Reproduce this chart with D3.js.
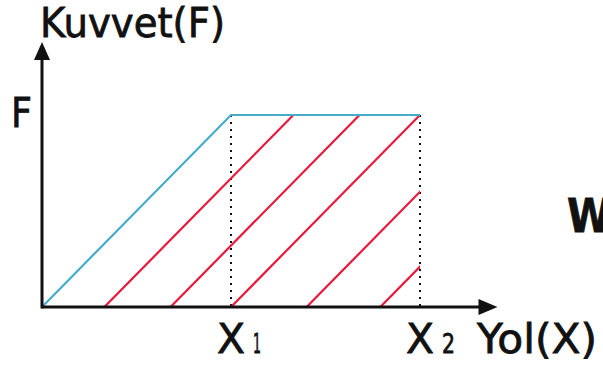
<!DOCTYPE html>
<html>
<head>
<meta charset="utf-8">
<script src="https://cdn.jsdelivr.net/npm/d3@7"></script>
<style>
  body { margin: 0; background: #fff; }
  svg { display: block; }
  text { font-family: "DejaVu Sans", "Noto Sans", sans-serif; fill: #111; stroke: #111; stroke-width: 0.8px; }
</style>
</head>
<body>
<svg id="chart" width="603" height="369"></svg>
<script>
// force rises from 0 to F at X1, then stays at F until X2
const forceLine = [[0, 0], [1, 1], [2, 1]]
const markX = [1, 2]           // X1, X2
const hatchStarts = [0.33, 0.68, 1.0, 1.40, 1.79]
const xMax = 2.41, yMax = 1.38

const svg = d3.select('#chart')

const x = d3.scaleLinear().domain([0, 1]).range([42, 231])
const y = d3.scaleLinear().domain([0, 1]).range([307, 115])

svg.append('defs').append('clipPath').attr('id', 'area')
  .append('rect')
  .attr('x', x(0)).attr('y', y(1))
  .attr('width', x(2) - x(0)).attr('height', y(0) - y(1))

// dotted guides at X1, X2
svg.selectAll('line.guide')
  .data(markX)
  .enter()
  .append('line')
  .attr('class', 'guide')
  .attr('x1', d => x(d)).attr('x2', d => x(d))
  .attr('y1', y(1)).attr('y2', y(0))
  .attr('stroke', '#111')
  .attr('stroke-width', 2)
  .attr('stroke-dasharray', '2,5')

// red hatching
svg.append('g').attr('clip-path', 'url(#area)')
  .selectAll('line')
  .data(hatchStarts)
  .enter()
  .append('line')
  .attr('x1', d => x(d)).attr('y1', y(0))
  .attr('x2', d => x(d + 1)).attr('y2', y(1))
  .attr('stroke', '#e8193c')
  .attr('stroke-width', 2.2)

var line = d3.line().x(d => x(d[0])).y(d => y(d[1]))
svg.append('path')
  .datum(forceLine)
  .attr('d', line)
  .attr('fill', 'none')
  .attr('stroke', '#45acc9')
  .attr('stroke-width', 2.2)

// axes
svg.append('line')
  .attr('x1', x(0)).attr('y1', y(0))
  .attr('x2', x(xMax) - 14).attr('y2', y(0))
  .attr('stroke', '#111').attr('stroke-width', 3)
svg.append('line')
  .attr('x1', x(0)).attr('y1', y(0) + 1.5)
  .attr('x2', x(0)).attr('y2', y(yMax) + 14)
  .attr('stroke', '#111').attr('stroke-width', 3)

const xe = x(xMax), ye = y(yMax)
svg.append('path')
  .attr('d', `M${xe},${y(0)} L${xe - 19},${y(0) - 8} L${xe - 19},${y(0) + 8} Z`)
  .attr('fill', '#111')
svg.append('path')
  .attr('d', `M${x(0)},${ye} L${x(0) - 8},${ye + 18} L${x(0) + 8},${ye + 18} Z`)
  .attr('fill', '#111')

// labels
function label(txt, px, py, size, len, weight) {
  var t = svg.append('text')
    .attr('x', px).attr('y', py)
    .attr('font-size', size)
    .attr('font-weight', weight || 'normal')
    .text(txt)
  if (len) t.attr('textLength', len).attr('lengthAdjust', 'spacingAndGlyphs')
  return t
}

label('Kuvvet(F)', 40, 37, 41, 185)
label('F', 11, 127, 41, 21)

const xLabels = [['X', '1'], ['X', '2']]
xLabels.forEach(function (l, i) {
  var px = x(markX[i]) - 14
  label(l[0], px, 353, 41, 28)
  label(l[1], px + 36, 353, 26, i == 0 ? 8 : 13)
})

label('Yol(X)', 477, 353, 41, 120)
label('W', 567, 232, 46, 44, 'bold')
</script>
</body>
</html>
